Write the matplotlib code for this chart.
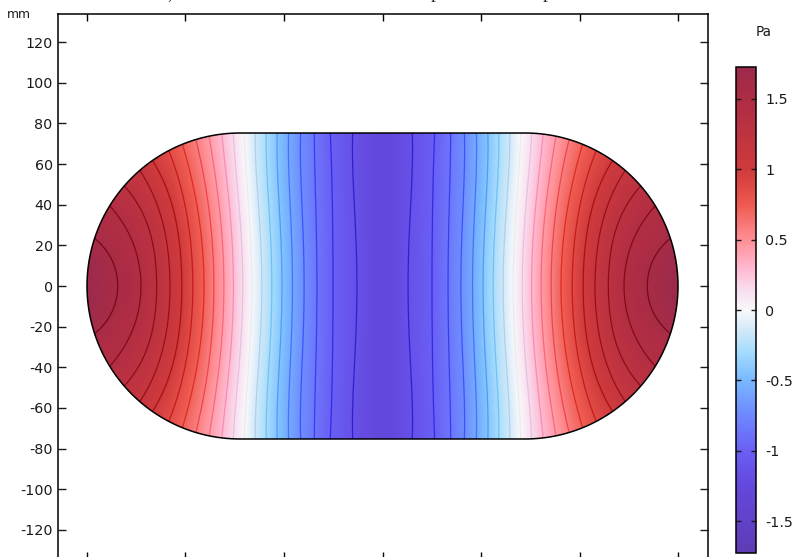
import numpy as np
import matplotlib
matplotlib.use("Agg")
import matplotlib.pyplot as plt
from matplotlib.colors import LinearSegmentedColormap
from matplotlib.patches import Polygon

W, H = 793, 557
PX_PER_MM = 2.033
CX, CY = 382.5, 286  # pixel position of the origin in the reference

# colour scale
cbar_values = [-1.727, -1.25, -1.0, -0.75, -0.5, -0.3, -0.15, 0.0, 0.15, 0.3, 0.5, 0.75, 1.0, 1.5, 1.727]
cbar_colors = ['#5e3cb4', '#6448de', '#6a5ff5', '#6e88ff', '#78b8ff', '#a4dcfc', '#d0e8f8', '#f8f8fa',
               '#f8dcee', '#ffb8d0', '#ff8f96', '#ee5a50', '#cf3a3c', '#ae2c44', '#9c2a4a']
cbar_ticks = [-1.5, -1, -0.5, 0, 0.5, 1, 1.5]
cbar_labels = ['-1.5', '-1', '-0.5', '0', '0.5', '1', '1.5']

y_ticks = [-120, -100, -80, -60, -40, -20, 0, 20, 40, 60, 80, 100, 120]
x_ticks = [-145.5, -97, -48.5, 0, 48.5, 97, 145.5]

# contour levels (Pa) and where each one runs on the left half,
# read from the picture as pixel rows and pixel columns
iso_levels = [1.58 - 0.1436 * i for i in range(20)]
iso_rows = [
    [286, 262, 238], [286, 238, 206], [286, 208, 186], [286, 208, 170.7],
    [286, 208, 172, 160.7], [286, 208, 172, 150], [286, 208, 172, 144], [286, 208, 172, 139.3],
    [286, 208, 172, 136], [286, 208, 172, 133], [286, 208, 172, 133], [286, 208, 172, 133],
    [286, 208, 172, 133], [286, 208, 172, 133], [286, 208, 172, 133], [286, 208, 172, 133],
    [286, 208, 172, 133], [286, 208, 172, 133], [286, 208, 172, 133], [286, 208, 172, 133],
]
iso_cols = [
    [117.7, 112.8, 94.3], [141, 130.9, 110], [156.7, 140, 124.3], [170, 158.3, 140],
    [182, 172.3, 160, 152], [193, 185, 177, 168.3], [204, 197.3, 190, 182.3], [214, 208.3, 203.3, 195.7],
    [224, 219, 215, 209], [233.5, 229.3, 226, 221.7], [242.7, 239.3, 236, 233.3], [251.7, 249, 246, 244.3],
    [261.7, 259, 256, 255.3], [271.7, 269.3, 266.7, 266.3], [281.7, 280, 277, 277.3], [292.3, 290.7, 288.5, 288.7],
    [304, 302.3, 300.5, 300.7], [317, 315.7, 315, 314.3], [333, 332.3, 331.7, 330.3], [357, 354.3, 353, 352.7],
]
p_edge, p_centre = 1.727, -1.295

cmap = LinearSegmentedColormap.from_list(
    'wave', [((v + 1.727) / 3.454, c) for v, c in zip(cbar_values, cbar_colors)], N=512)

# build the pressure field from the contour table
ys = np.linspace(-76, 76, 609)
xs = np.linspace(-146, 146, 1169)
fits = []
for rows, cols in zip(iso_rows, iso_cols):
    yy = ((CY - np.array(rows)) / PX_PER_MM) ** 2
    xx = (np.array(cols) - CX) / PX_PER_MM
    fits.append(np.polyfit(yy, xx, 2))  # least squares, keeps the lines from wobbling

Z = np.zeros((len(ys), len(xs)))
for j, y in enumerate(ys):
    pos = np.array([np.polyval(f, y * y) for f in fits])
    pos = np.maximum.accumulate(pos)
    pos = pos + np.arange(len(pos)) * 1e-6
    xp = np.concatenate([[pos[0] - 15], pos, [0.0]])
    fp = np.concatenate([[p_edge], iso_levels, [p_centre]])
    Z[j] = np.interp(-np.abs(xs), xp, fp)

fig = plt.figure(figsize=(W / 100, H / 100), dpi=100)
plt.rcParams['font.family'] = ['DejaVu Sans']

left, right, top, bottom = 57.5, 707.5, 13.5, 558.5
ax = fig.add_axes([left / W, 1 - bottom / H, (right - left) / W, (bottom - top) / H])
ax.set_xlim((left - CX) / PX_PER_MM, (right - CX) / PX_PER_MM)
ax.set_ylim((CY - bottom) / PX_PER_MM, (CY - top) / PX_PER_MM)

mesh = ax.pcolormesh(xs, ys, Z, cmap=cmap, vmin=-1.727, vmax=1.727, shading='auto', rasterized=True)

# stadium outline
half, radius = 70.1, 75.25
th = np.linspace(-np.pi / 2, np.pi / 2, 200)
outline = np.concatenate([
    np.column_stack([half + radius * np.cos(th), radius * np.sin(th)]),
    np.column_stack([-half - radius * np.cos(th[::-1]), radius * np.sin(th[::-1])]),
])
shape = Polygon(outline, closed=True, fill=False, edgecolor='black', linewidth=1.1, zorder=5)
ax.add_patch(shape)
mesh.set_clip_path(shape)

line_colors = [tuple(0.97 * c ** 1.8 for c in cmap((v + 1.727) / 3.454)[:3]) for v in iso_levels[::-1]]
cs = ax.contour(xs, ys, Z, levels=iso_levels[::-1], colors=line_colors, linewidths=0.9)
cs.set_clip_path(shape)

ax.set_yticks(y_ticks)
ax.set_yticklabels([str(v) for v in y_ticks])
ax.set_xticks(x_ticks)
ax.tick_params(axis='y', direction='in', left=True, right=True, length=5.8, width=1, pad=3.5, labelsize=10.3, colors='#1a1a1a')
ax.tick_params(axis='x', direction='in', top=True, bottom=True, length=5, width=1, labelbottom=False)
for s in ax.spines.values():
    s.set_linewidth(1.1)
    s.set_color('black')

fig.text(19 / W, 1 - 14.5 / H, 'mm', fontsize=8.8, ha='center', va='center', color='#1a1a1a')
fig.text(763.5 / W, 1 - 32 / H, 'Pa', fontsize=9.8, ha='center', va='center', color='#1a1a1a')

# colour bar
cax = fig.add_axes([735.7 / W, 1 - 553 / H, 19.8 / W, 486 / H])
cb = fig.colorbar(mesh, cax=cax)
cb.set_ticks(cbar_ticks)
cb.set_ticklabels(cbar_labels)
cax.tick_params(axis='y', direction='in', left=True, right=True, length=3.5, width=1, pad=7, labelsize=10.3, colors='#1a1a1a')
cb.outline.set_linewidth(1.1)
cb.outline.set_edgecolor('black')

# the title of the source page is cut by the top edge, only descenders show
fig.text(170 / W, 1 + 1.5 / H, ',', fontsize=14, family='Liberation Serif', ha='center', va='baseline', color='#222222')
fig.text(435.5 / W, 1 + 1.5 / H, 'p', fontsize=14, family='Liberation Serif', ha='center', va='baseline', color='#222222')
fig.text(547.5 / W, 1 + 1.5 / H, 'p', fontsize=14, family='Liberation Serif', ha='center', va='baseline', color='#222222')

fig.savefig('out.png', dpi=100)
